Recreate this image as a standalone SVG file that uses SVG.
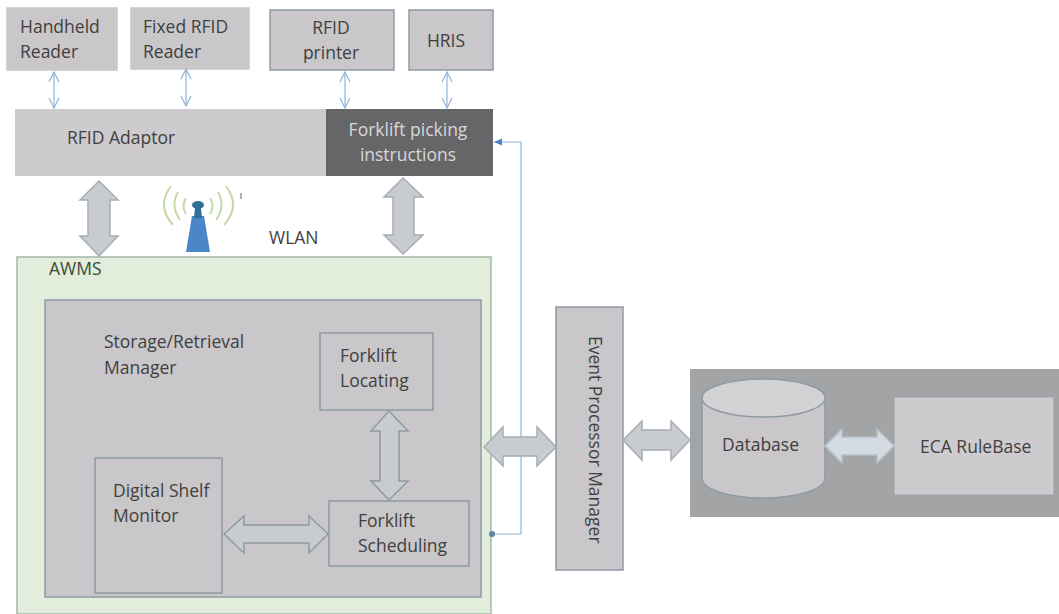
<svg xmlns="http://www.w3.org/2000/svg" width="1059" height="614" viewBox="0 0 1059 614">
<style>
text{font-family:"Open Sans","Noto Sans",sans-serif;font-size:17.500px;fill:#3f3f3f}
.g{fill:#c9c7c9;stroke:#a9adb2;stroke-width:1.5}
.b{fill:#c9c7c9;stroke:#8f9ba3;stroke-width:1.5}
.big{fill:#c8cbd0;stroke:#a6adb4;stroke-width:1.5}
.thin{fill:none;stroke:#8fb4d8;stroke-width:1.2}
</style>
<defs>
<marker id="tip" viewBox="0 0 12 12" refX="11" refY="6" markerWidth="12" markerHeight="12" markerUnits="userSpaceOnUse" orient="auto-start-reverse"><path d="M1 1L11 6L1 11" fill="none" stroke="#8fb4d8" stroke-width="1.2"/></marker>
</defs>
<rect width="1059" height="614" fill="#fff"/>
<g id="handheld-reader"><rect class="g" x="7" y="8" width="110" height="62" style="stroke:#c9c7c9"/><text x="20" y="33">Handheld</text><text x="20" y="58">Reader</text></g>
<g id="fixed-rfid-reader"><rect class="g" x="131" y="8" width="118" height="61" style="stroke:#c9c7c9"/><text x="143" y="33">Fixed RFID</text><text x="143" y="58">Reader</text></g>
<g id="rfid-printer"><rect class="b" x="270" y="10" width="124" height="60"/><text x="331" y="34" text-anchor="middle">RFID</text><text x="331" y="59" text-anchor="middle">printer</text></g>
<g id="hris"><rect class="b" x="409" y="10" width="84" height="60"/><text x="446" y="47" text-anchor="middle">HRIS</text></g>
<g id="rfid-adaptor"><rect x="15" y="109" width="311" height="67" fill="#cdcbcd"/><text x="67" y="144">RFID Adaptor</text></g>
<g id="forklift-picking"><rect x="326" y="109" width="167" height="67" fill="#666668"/><text x="408" y="136" text-anchor="middle" style="fill:#d8d8d8">Forklift picking</text><text x="408" y="161" text-anchor="middle" style="fill:#d8d8d8">instructions</text></g>
<g id="wlan"><text x="269" y="244">WLAN</text>
<path d="M186 252L192 216H204L210 252Z" fill="#4a86c8"/><ellipse cx="198" cy="205" rx="6" ry="4" fill="#2f6f94"/><path d="M195 208H201L202 218H194Z" fill="#2f6f94"/>
<g fill="none" stroke="#c5d9a8" stroke-width="2"><path d="M186 198Q181 206 186 214"/><path d="M178 192Q170 206 180 220"/><path d="M171 186Q156 206 173 225"/><path d="M210 198Q215 206 210 214"/><path d="M218 192Q226 206 216 220"/><path d="M226 186Q241 206 224 225"/></g>
<path d="M241 193V199" stroke="#666" stroke-width="1"/></g>
<g id="awms"><rect x="17" y="257" width="474" height="357" fill="#e2eedb" stroke="#a3b8a8" stroke-width="1.5"/><text x="49" y="275" style="fill:#3c4a35">AWMS</text></g>
<g id="storage-retrieval-manager"><rect class="b" x="45" y="300" width="436" height="297"/><text x="104" y="348">Storage/Retrieval</text><text x="104" y="374">Manager</text></g>
<g id="forklift-locating"><rect class="b" x="320" y="333" width="113" height="77"/><text x="340" y="362">Forklift</text><text x="340" y="387">Locating</text></g>
<g id="digital-shelf-monitor"><rect class="b" x="95" y="458" width="127" height="135"/><text x="113" y="497">Digital Shelf</text><text x="113" y="522">Monitor</text></g>
<g id="forklift-scheduling"><rect class="b" x="329" y="501" width="140" height="65"/><text x="358" y="527">Forklift</text><text x="358" y="552">Scheduling</text></g>
<g id="event-processor-manager"><rect class="b" x="556" y="307" width="67" height="263"/><text transform="translate(589 336) rotate(90)">Event Processor Manager</text></g>
<g id="rule-container"><rect x="690" y="369" width="369" height="148" fill="#a3a4a6"/></g>
<g id="database"><path d="M702 398V478C702 490 730 498 763 498S825 490 825 478V398Z" fill="#c9c7c9" stroke="#8f9ba3" stroke-width="1.5"/><ellipse cx="763.500" cy="398" rx="61.500" ry="19" fill="#d2d2d4" stroke="#8f9ba3" stroke-width="1.5"/><text x="722" y="451">Database</text></g>
<g id="eca-rulebase"><rect x="894" y="397" width="160" height="98" fill="#cdcbcd" stroke="#9aa3aa" stroke-width="1"/><text x="920" y="453">ECA RuleBase</text></g>
<g id="connectors">
<path class="thin" d="M54 72V108" marker-start="url(#tip)" marker-end="url(#tip)"/>
<path class="thin" d="M186 69V106" marker-start="url(#tip)" marker-end="url(#tip)"/>
<path class="thin" d="M345 72V108" marker-start="url(#tip)" marker-end="url(#tip)"/>
<path class="thin" d="M447 72V108" marker-start="url(#tip)" marker-end="url(#tip)"/>
<path d="M494 142H521V534H491" fill="none" stroke="#8fb4d8" stroke-width="1.2"/>
<path d="M494 142L502 138.500V145.500Z" fill="#4a86c8"/><circle cx="492" cy="534" r="3" fill="#5b87a8"/>
<path class="big" d="M99 181L118 200H110V236H118L99 256L80 236H88V200H80Z"/>
<path class="big" d="M403 178L423 197H414V235H423L403 254L384 235H393V197H384Z"/>
<path class="big" d="M389 411L408 431H399V481H408L389 500L371 481H380V431H371Z" style="stroke:#8f9ba3"/>
<path class="big" d="M224 534L244 516V525H309V516L328 534L309 553V543H244V553Z" style="stroke:#8f9ba3"/>
<path class="big" d="M484 447L503 427V437H537V427L556 447L537 466V456H503V466Z"/>
<path class="big" d="M623 440L642 421V430H671V421L690 440L671 460V450H642V460Z"/>
<path class="big" d="M825 446L842 429V437H877V429L894 446L877 463V455H842V463Z" style="fill:#d4dbe2;stroke:#b4c0ca"/>
</g>
</svg>
